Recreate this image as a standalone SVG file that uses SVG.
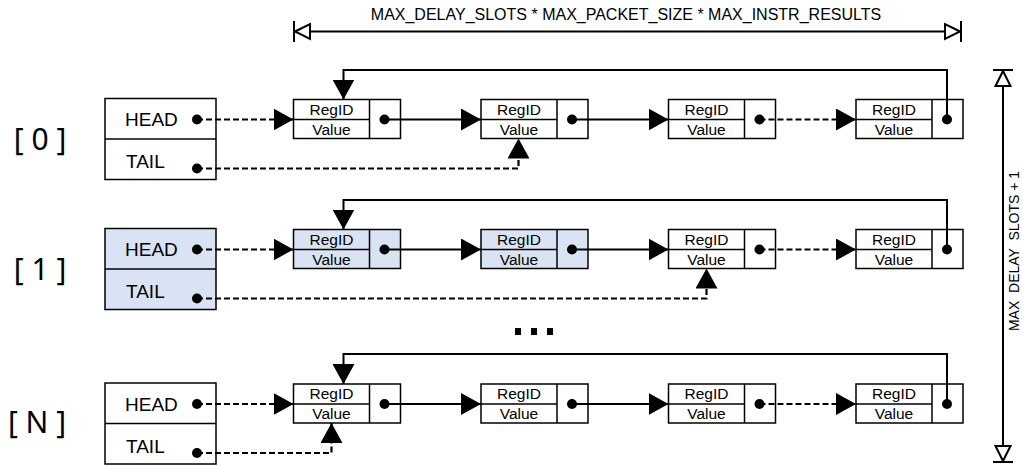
<svg xmlns="http://www.w3.org/2000/svg" width="1023" height="466" viewBox="0 0 1023 466">
<style>
.box{fill:#fff;stroke:#000;stroke-width:1.5}
.blue{fill:#dae3f3}
.ln{fill:none;stroke:#000;stroke-width:2}
.dash{stroke-dasharray:6 3;stroke-width:2.2}
.dot{fill:#000}
.ht{font-family:"Liberation Sans",Arial,sans-serif;font-size:19px;fill:#000}
.nt{font-family:"Liberation Sans",Arial,sans-serif;font-size:15.5px;fill:#000;text-anchor:middle}
.lbl{font-family:"Noto Sans","Open Sans",sans-serif;font-size:30px;fill:#000;text-anchor:middle;white-space:pre}
.dim{font-family:"Liberation Sans",Arial,sans-serif;font-size:16px;fill:#000;text-anchor:middle;white-space:pre}
.open{fill:#fff;stroke:#000;stroke-width:2}
</style>
<defs>
<marker id="ah" markerUnits="userSpaceOnUse" markerWidth="20" markerHeight="22" viewBox="0 0 20 22" refX="20" refY="11" orient="auto">
<path d="M0,0 L20,11 L0,22 Z" fill="#000"/>
</marker>
<g id="node">
<rect class="box" x="0" y="0" width="107" height="39"/>
<line x1="0" y1="20" x2="76" y2="20" stroke="#000" stroke-width="1.5"/>
<line x1="76" y1="0" x2="76" y2="39" stroke="#000" stroke-width="1.5"/>
<text class="nt" x="38" y="15">RegID</text>
<text class="nt" x="38" y="35">Value</text>
</g>
</defs>

<!-- Row labels -->
<g id="labels">
<text class="lbl" x="40" y="150">[ 0 ]</text>
<text class="lbl" x="40" y="280">[ 1 ]</text>
<text class="lbl" x="37" y="433">[ N ]</text>
</g>

<!-- Row 0 -->
<g id="row0-headtail">
<rect class="box" x="105" y="98.5" width="111" height="81"/>
<line x1="105" y1="139" x2="216" y2="139" stroke="#000" stroke-width="1.5"/>
<text class="ht" x="125" y="126">HEAD</text>
<text class="ht" x="126" y="168">TAIL</text>
</g>
<g id="row0-n1"><use href="#node" x="293.5" y="99.5"/></g>
<g id="row0-n2"><use href="#node" x="481" y="99.5"/></g>
<g id="row0-n3"><use href="#node" x="668.5" y="99.5"/></g>
<g id="row0-n4"><use href="#node" x="856" y="99.5"/></g>

<!-- Row 1 -->
<g id="row1-headtail">
<rect class="box blue" x="105" y="228.5" width="111" height="81"/>
<line x1="105" y1="269" x2="216" y2="269" stroke="#000" stroke-width="1.5"/>
<text class="ht" x="125" y="256">HEAD</text>
<text class="ht" x="126" y="298">TAIL</text>
</g>
<g id="row1-n1">
<rect class="box blue" x="293.5" y="229.5" width="107" height="39"/>
<line x1="293.5" y1="249.5" x2="369.5" y2="249.5" stroke="#000" stroke-width="1.5"/>
<line x1="369.5" y1="229.5" x2="369.5" y2="268.5" stroke="#000" stroke-width="1.5"/>
<text class="nt" x="331.5" y="244.5">RegID</text>
<text class="nt" x="331.5" y="264.5">Value</text>
</g>
<g id="row1-n2">
<rect class="box blue" x="481" y="229.5" width="107" height="39"/>
<line x1="481" y1="249.5" x2="557" y2="249.5" stroke="#000" stroke-width="1.5"/>
<line x1="557" y1="229.5" x2="557" y2="268.5" stroke="#000" stroke-width="1.5"/>
<text class="nt" x="519" y="244.5">RegID</text>
<text class="nt" x="519" y="264.5">Value</text>
</g>
<g id="row1-n3"><use href="#node" x="668.5" y="229.5"/></g>
<g id="row1-n4"><use href="#node" x="856" y="229.5"/></g>

<!-- Row N -->
<g id="rowN-headtail">
<rect class="box" x="105" y="383" width="111" height="81"/>
<line x1="105" y1="423.5" x2="216" y2="423.5" stroke="#000" stroke-width="1.5"/>
<text class="ht" x="125" y="410.5">HEAD</text>
<text class="ht" x="126" y="452.5">TAIL</text>
</g>
<g id="rowN-n1"><use href="#node" x="293.5" y="384"/></g>
<g id="rowN-n2"><use href="#node" x="481" y="384"/></g>
<g id="rowN-n3"><use href="#node" x="668.5" y="384"/></g>
<g id="rowN-n4"><use href="#node" x="856" y="384"/></g>

<!-- Ellipsis -->
<g id="ellipsis">
<rect x="515" y="328" width="6" height="7" fill="#000"/>
<rect x="531" y="328" width="6" height="7" fill="#000"/>
<rect x="547" y="328" width="6" height="7" fill="#000"/>
</g>

<!-- Connectors -->
<g id="connectors">
<!-- row 0 -->
<path class="ln dash" d="M197,119.5 H293.5" marker-end="url(#ah)"/>
<path class="ln" d="M384.5,119.5 H481" marker-end="url(#ah)"/>
<path class="ln" d="M572,119.5 H668.5" marker-end="url(#ah)"/>
<path class="ln dash" d="M759.5,119.5 H856" marker-end="url(#ah)"/>
<path class="ln" d="M947,119.5 V70 H343.5 V99.5" marker-end="url(#ah)"/>
<path class="ln dash" d="M197,168.5 H518.5 V138.5" marker-end="url(#ah)"/>
<circle class="dot" cx="197" cy="119.5" r="5"/>
<circle class="dot" cx="197" cy="168.5" r="5"/>
<circle class="dot" cx="384.5" cy="119.5" r="5"/>
<circle class="dot" cx="572" cy="119.5" r="5"/>
<circle class="dot" cx="759.5" cy="119.5" r="5"/>
<circle class="dot" cx="947" cy="119.5" r="5"/>
<!-- row 1 -->
<path class="ln dash" d="M197,249.5 H293.5" marker-end="url(#ah)"/>
<path class="ln" d="M384.5,249.5 H481" marker-end="url(#ah)"/>
<path class="ln" d="M572,249.5 H668.5" marker-end="url(#ah)"/>
<path class="ln dash" d="M759.5,249.5 H856" marker-end="url(#ah)"/>
<path class="ln" d="M947,249.5 V200 H343.5 V229.5" marker-end="url(#ah)"/>
<path class="ln dash" d="M197,298.5 H706.5 V268.5" marker-end="url(#ah)"/>
<circle class="dot" cx="197" cy="249.5" r="5"/>
<circle class="dot" cx="197" cy="298.5" r="5"/>
<circle class="dot" cx="384.5" cy="249.5" r="5"/>
<circle class="dot" cx="572" cy="249.5" r="5"/>
<circle class="dot" cx="759.5" cy="249.5" r="5"/>
<circle class="dot" cx="947" cy="249.5" r="5"/>
<!-- row N -->
<path class="ln dash" d="M197,404 H293.5" marker-end="url(#ah)"/>
<path class="ln" d="M384.5,404 H481" marker-end="url(#ah)"/>
<path class="ln" d="M572,404 H668.5" marker-end="url(#ah)"/>
<path class="ln dash" d="M759.5,404 H856" marker-end="url(#ah)"/>
<path class="ln" d="M947,404 V354 H343.5 V384" marker-end="url(#ah)"/>
<path class="ln dash" d="M197,453 H331.5 V423" marker-end="url(#ah)"/>
<circle class="dot" cx="197" cy="404" r="5"/>
<circle class="dot" cx="197" cy="453" r="5"/>
<circle class="dot" cx="384.5" cy="404" r="5"/>
<circle class="dot" cx="572" cy="404" r="5"/>
<circle class="dot" cx="759.5" cy="404" r="5"/>
<circle class="dot" cx="947" cy="404" r="5"/>
</g>

<!-- Top dimension -->
<g id="dim-top">
<line class="ln" x1="310" y1="31.5" x2="945" y2="31.5"/>
<line class="ln" x1="294" y1="21" x2="294" y2="42"/>
<line class="ln" x1="961" y1="21" x2="961" y2="42"/>
<path class="open" d="M295,31.5 L310,24 L310,39 Z"/>
<path class="open" d="M960,31.5 L945,24 L945,39 Z"/>
<text class="dim" x="626" y="20">MAX_DELAY_SLOTS * MAX_PACKET_SIZE * MAX_INSTR_RESULTS</text>
</g>

<!-- Right dimension -->
<g id="dim-right">
<line class="ln" x1="1003" y1="86" x2="1003" y2="446"/>
<line class="ln" x1="993" y1="70" x2="1013" y2="70"/>
<line class="ln" x1="993" y1="462" x2="1013" y2="462"/>
<path class="open" d="M1003,71 L995.5,86 L1010.5,86 Z"/>
<path class="open" d="M1003,461 L995.5,446 L1010.5,446 Z"/>
<text class="dim" style="font-size:14px" transform="translate(1019,251) rotate(-90)">MAX  DELAY  SLOTS + 1</text>
</g>
</svg>
